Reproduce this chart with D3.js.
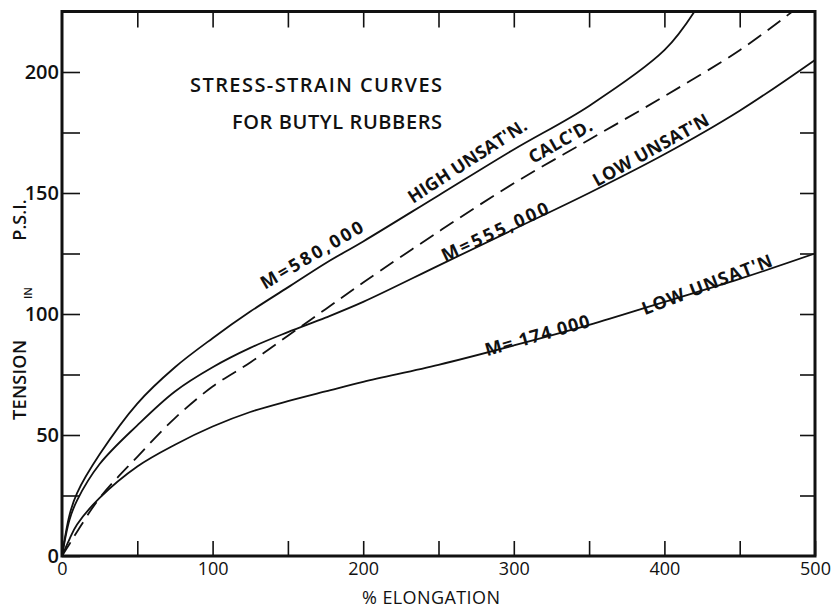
<!DOCTYPE html>
<html>
<head>
<meta charset="utf-8">
<script src="https://cdn.jsdelivr.net/npm/d3@7"></script>
<style>
  body { margin: 0; background: #fff; }
  text { font-family: "Open Sans", "DejaVu Sans", sans-serif; fill: #111; }
</style>
</head>
<body>
<div id="chart"></div>
<script>
// values (% elongation vs tension in p.s.i.)
const elongation = [0, 5, 10, 25, 50, 75, 100, 125, 150, 175, 200, 250, 300, 350, 400, 450, 500];
const tensionLow555 = [0, 15, 23, 38, 54, 68, 78, 86, 92.5, 98.5, 105, 120, 135, 150, 166, 184, 205];
const tensionLow174 = [0, 7, 13, 24, 37, 46, 53.5, 59.5, 64, 68, 72, 79, 87, 95.5, 105, 114.5, 125];

// these two leave the top of the frame before 500 %
const elongationHigh580 = [0, 5, 10, 25, 50, 75, 100, 125, 150, 175, 200, 250, 300, 350, 400, 420];
const tensionHigh580 = [0, 17, 26, 42, 63, 78, 90, 101, 111, 121, 130, 149, 168, 186, 209, 225];
const elongationCalc = [0, 5, 10, 25, 50, 75, 100, 125, 150, 175, 200, 250, 300, 350, 400, 450, 485];
const tensionCalc = [0, 5, 10, 24, 41, 57, 70, 80, 91, 102, 113, 134, 154, 172, 190, 209, 225];

const xTicks = d3.range(0, 501, 50);
const yTicks = d3.range(0, 201, 25);

const curves = [
  { name: "high580", xs: elongationHigh580, ys: tensionHigh580, dash: null },
  { name: "calc", xs: elongationCalc, ys: tensionCalc, dash: "16,8" },
  { name: "low555", xs: elongation, ys: tensionLow555, dash: null },
  { name: "low174", xs: elongation, ys: tensionLow174, dash: null }
];

// labels along the curves, anchored in data units
const curveLabels = [
  { text: "M=580,000", at: [134.8, 110], angle: -30.5, len: 116 },
  { text: "HIGH UNSAT'N.", at: [233, 145.5], angle: -33, len: 138 },
  { text: "CALC'D.", at: [312.7, 162], angle: -29.5, len: 70 },
  { text: "M=555,000", at: [254.3, 121.5], angle: -25, len: 116 },
  { text: "LOW UNSAT'N", at: [355.2, 152.5], angle: -29, len: 130 },
  { text: "M= 174 000", at: [282.2, 82.5], angle: -16, len: 108 },
  { text: "LOW UNSAT'N", at: [387, 99.5], angle: -21, len: 138 }
];

const width = 836, height = 610;

const svg = d3.select("#chart")
  .append("svg")
    .attr("width", width)
    .attr("height", height);

const x = d3.scaleLinear().domain([0, 500]).range([62, 815]);
const y = d3.scaleLinear().domain([0, 225]).range([556, 11.5]);

const styleAxis = g => {
  g.select(".domain").remove();
  g.selectAll(".tick line").attr("stroke", "#111").attr("stroke-width", 1.6);
};

// bottom ticks + labels
svg.append("g")
  .attr("transform", `translate(0,${y(0)})`)
  .call(d3.axisBottom(x).tickValues(xTicks).tickSize(-15).tickPadding(6)
    .tickFormat(d => d % 100 === 0 ? d : ""))
  .call(styleAxis)
  .attr("font-family", null)
  .attr("font-size", 18);

// left ticks + labels
svg.append("g")
  .attr("transform", `translate(${x(0)},0)`)
  .call(d3.axisLeft(y).tickValues(yTicks).tickSize(-18).tickPadding(3)
    .tickFormat(d => d % 50 === 0 ? d : ""))
  .call(styleAxis)
  .attr("font-family", null)
  .attr("font-size", 20)
  .attr("font-weight", 600);

// top and right ticks, no labels
svg.append("g")
  .attr("transform", `translate(0,${y(225)})`)
  .call(d3.axisTop(x).tickValues(xTicks.slice(1, -1)).tickSize(-16).tickFormat(""))
  .call(styleAxis);

svg.append("g")
  .attr("transform", `translate(${x(500)},0)`)
  .call(d3.axisRight(y).tickValues(yTicks.slice(1)).tickSize(-15).tickFormat(""))
  .call(styleAxis);

// frame
svg.append("rect")
  .attr("x", x(0))
  .attr("y", y(225))
  .attr("width", x(500) - x(0))
  .attr("height", y(0) - y(225))
  .attr("fill", "none")
  .attr("stroke", "#111")
  .attr("stroke-width", 3);

// the curves
const line = d3.line()
  .x(d => x(d[0]))
  .y(d => y(d[1]))
  .curve(d3.curveCatmullRom.alpha(0.5));

svg.selectAll("path.curve")
  .data(curves)
  .enter()
  .append("path")
    .attr("class", d => "curve " + d.name)
    .attr("d", d => line(d3.zip(d.xs, d.ys)))
    .attr("fill", "none")
    .attr("stroke", "#111")
    .attr("stroke-width", 1.8)
    .attr("stroke-dasharray", d => d.dash);

// curve labels
svg.selectAll("text.clabel")
  .data(curveLabels)
  .enter()
  .append("text")
    .attr("class", "clabel")
    .attr("transform", d => `translate(${x(d.at[0])},${y(d.at[1])}) rotate(${d.angle})`)
    .attr("textLength", d => d.len)
    .attr("lengthAdjust", "spacing")
    .style("font-size", "18px")
    .style("font-weight", 700)
    .text(d => d.text);

// title
svg.append("text")
  .attr("x", 442).attr("y", 92)
  .attr("text-anchor", "end")
  .attr("textLength", 252)
  .style("font-size", "20px")
  .style("font-weight", 600)
  .text("STRESS-STRAIN CURVES");

svg.append("text")
  .attr("x", 442).attr("y", 129)
  .attr("text-anchor", "end")
  .attr("textLength", 210)
  .style("font-size", "20px")
  .style("font-weight", 600)
  .text("FOR BUTYL RUBBERS");

// axis titles
svg.append("text")
  .attr("x", 431).attr("y", 604)
  .attr("text-anchor", "middle")
  .attr("textLength", 138)
  .style("font-size", "18px")
  .text("% ELONGATION");

const yTitle = svg.append("g");
yTitle.append("text")
  .attr("transform", "translate(26,380) rotate(-90)")
  .attr("text-anchor", "middle")
  .attr("textLength", 80)
  .style("font-size", "18px")
  .style("font-weight", 600)
  .text("TENSION");
yTitle.append("text")
  .attr("transform", "translate(32,293) rotate(-90)")
  .attr("text-anchor", "middle")
  .style("font-size", "11px")
  .style("font-weight", 600)
  .text("IN");
yTitle.append("text")
  .attr("transform", "translate(26,220) rotate(-90)")
  .attr("text-anchor", "middle")
  .style("font-size", "18px")
  .style("font-weight", 600)
  .text("P.S.I.");
</script>
</body>
</html>
